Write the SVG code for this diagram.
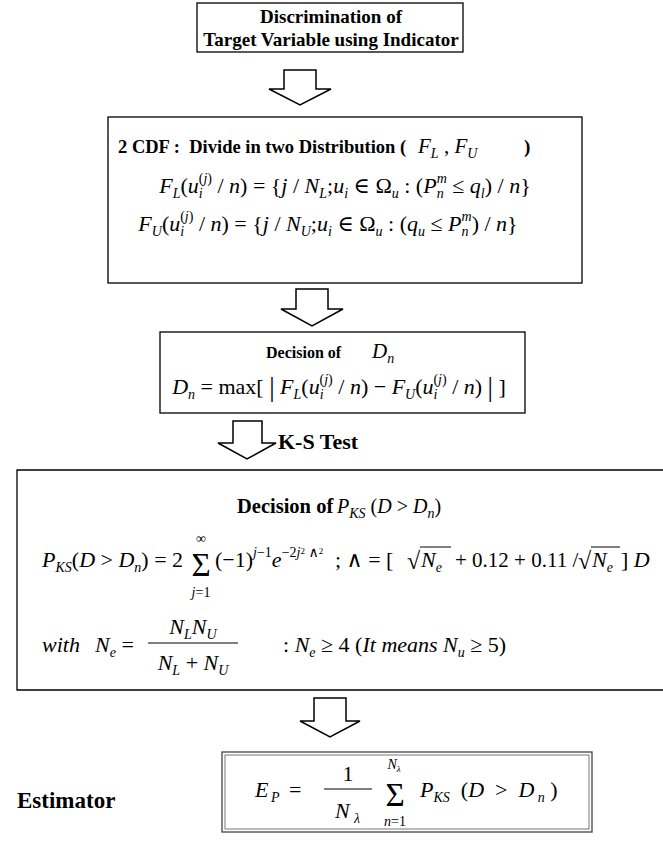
<svg xmlns="http://www.w3.org/2000/svg" width="663" height="841" viewBox="0 0 663 841">
<style>
.t{font-family:"Liberation Serif","DejaVu Serif",serif;white-space:pre;fill:#000}
.b{font-family:"Liberation Serif","DejaVu Serif",serif;white-space:pre;fill:#000;font-weight:bold}
.i{font-style:italic}
.s{font-size:14px}
.box{fill:#fff;stroke:#000;stroke-width:1.3}
.arrow{fill:#fff;stroke:#000;stroke-width:1.5;stroke-linejoin:miter}
.ln{stroke:#000;stroke-width:1}
</style>
<rect width="663" height="841" fill="#fff"/>
<g id="connectors">
<path class="arrow" d="M284 70H316V89H331L300 105L269 89H284Z"/>
<path class="arrow" d="M296 289H328V309H343L312 326L281 309H296Z"/>
<path class="arrow" d="M233 421H262V443H276L247 459L218 443H233Z"/>
<path class="arrow" d="M314 698H346V721H360L330 737L300 721H314Z"/>
</g>
<g id="node-discrimination">
<rect class="box" x="197" y="3" width="266" height="49"/>
<text class="b" x="331" y="23" font-size="19" text-anchor="middle">Discrimination of</text>
<text class="b" x="331" y="46" font-size="19" text-anchor="middle">Target Variable using Indicator</text>
</g>
<g id="node-cdf">
<rect class="box" x="108" y="117" width="474" height="166"/>
<text class="b" x="118" y="153" font-size="18.5">2 CDF :  Divide in two Distribution (</text>
<text class="t" x="418" y="153" font-size="21"><tspan class="i">F</tspan><tspan class="s i" dy="5">L</tspan><tspan dy="-5"> , </tspan><tspan class="i">F</tspan><tspan class="s i" dy="5">U</tspan></text>
<text class="b" x="524" y="153" font-size="19">)</text>
<text class="t" x="345" y="193" font-size="22" text-anchor="middle"><tspan class="i">F</tspan><tspan class="s i" dy="5">L</tspan><tspan dy="-5">(</tspan><tspan class="i">u</tspan><tspan class="s i" dy="5">i</tspan><tspan class="s" dx="-4" dy="-15">(<tspan class="i">j</tspan>)</tspan><tspan dy="10"> / </tspan><tspan class="i">n</tspan>) = {<tspan class="i">j</tspan> / <tspan class="i">N</tspan><tspan class="s i" dy="5">L</tspan><tspan dy="-5">;</tspan><tspan class="i">u</tspan><tspan class="s i" dy="5">i</tspan><tspan dy="-5"> ∈ Ω</tspan><tspan class="s i" dy="5">u</tspan><tspan dy="-5"> : (</tspan><tspan class="i">P</tspan><tspan class="s i" dy="5">n</tspan><tspan class="s i" dx="-7" dy="-15">m</tspan><tspan dy="10"> ≤ </tspan><tspan class="i">q</tspan><tspan class="s i" dy="5">l</tspan><tspan dy="-5">) / </tspan><tspan class="i">n</tspan>}</text>
<text class="t" x="328" y="231" font-size="22" text-anchor="middle"><tspan class="i">F</tspan><tspan class="s i" dy="5">U</tspan><tspan dy="-5">(</tspan><tspan class="i">u</tspan><tspan class="s i" dy="5">i</tspan><tspan class="s" dx="-4" dy="-15">(<tspan class="i">j</tspan>)</tspan><tspan dy="10"> / </tspan><tspan class="i">n</tspan>) = {<tspan class="i">j</tspan> / <tspan class="i">N</tspan><tspan class="s i" dy="5">U</tspan><tspan dy="-5">;</tspan><tspan class="i">u</tspan><tspan class="s i" dy="5">i</tspan><tspan dy="-5"> ∈ Ω</tspan><tspan class="s i" dy="5">u</tspan><tspan dy="-5"> : (</tspan><tspan class="i">q</tspan><tspan class="s i" dy="5">u</tspan><tspan dy="-5"> ≤ </tspan><tspan class="i">P</tspan><tspan class="s i" dy="5">n</tspan><tspan class="s i" dx="-7" dy="-15">m</tspan><tspan dy="10">) / </tspan><tspan class="i">n</tspan>}</text>
</g>
<g id="node-dn">
<rect class="box" x="160" y="332" width="365" height="81"/>
<text class="b" x="266" y="358" font-size="16">Decision of</text>
<text class="t" x="372" y="358" font-size="21"><tspan class="i">D</tspan><tspan class="s i" dy="5">n</tspan></text>
<text class="t" x="339" y="394" font-size="22" text-anchor="middle"><tspan class="i">D</tspan><tspan class="s i" dy="5">n</tspan><tspan dy="-5"> = max[ </tspan><tspan font-size="27" dy="2">|</tspan><tspan dy="-2"> </tspan><tspan class="i">F</tspan><tspan class="s i" dy="5">L</tspan><tspan dy="-5">(</tspan><tspan class="i">u</tspan><tspan class="s i" dy="5">i</tspan><tspan class="s" dx="-4" dy="-15">(<tspan class="i">j</tspan>)</tspan><tspan dy="10"> / </tspan><tspan class="i">n</tspan>) − <tspan class="i">F</tspan><tspan class="s i" dy="5">U</tspan><tspan dy="-5">(</tspan><tspan class="i">u</tspan><tspan class="s i" dy="5">i</tspan><tspan class="s" dx="-4" dy="-15">(<tspan class="i">j</tspan>)</tspan><tspan dy="10"> / </tspan><tspan class="i">n</tspan>) <tspan font-size="27" dy="2">|</tspan><tspan dy="-2"> ]</tspan></text>
</g>
<g id="label-ks">
<text class="b" x="278" y="449" font-size="22">K-S Test</text>
</g>
<g id="node-pks">
<path class="box" d="M664 470H17V690H664"/>
<text class="b" x="237" y="513" font-size="20.5">Decision of</text>
<text class="t" x="337" y="513" font-size="20"><tspan class="i">P</tspan><tspan class="s i" dy="5">KS</tspan><tspan dy="-5"> (</tspan><tspan class="i">D</tspan> &gt; <tspan class="i">D</tspan><tspan class="s i" dy="5">n</tspan><tspan dy="-5">)</tspan></text>
<text class="t" x="42" y="567" font-size="22"><tspan class="i">P</tspan><tspan class="s i" dy="5">KS</tspan><tspan dy="-5">(</tspan><tspan class="i">D</tspan> &gt; <tspan class="i">D</tspan><tspan class="s i" dy="5">n</tspan><tspan dy="-5">) = 2</tspan></text>
<text class="t" x="201" y="576" font-size="33" text-anchor="middle">Σ</text>
<text class="t" x="201" y="543" font-size="14" text-anchor="middle">∞</text>
<text class="t s" x="201" y="597" text-anchor="middle"><tspan class="i">j</tspan>=1</text>
<text class="t" x="215" y="567" font-size="22">(−1)<tspan class="s i" dy="-10">j</tspan><tspan class="s">−1</tspan><tspan class="i" dy="10">e</tspan><tspan class="s" dy="-10">−2<tspan class="i">j</tspan></tspan><tspan font-size="9" dy="-3">2</tspan><tspan class="s" dy="3"> ∧</tspan><tspan font-size="9" dy="-3">2</tspan></text>
<text class="t" x="335" y="567" font-size="22">; ∧ = [</text>
<text class="t" x="407" y="569" font-size="24">√</text>
<line class="ln" x1="420" y1="547" x2="451" y2="547"/>
<text class="t" x="421" y="567" font-size="22"><tspan class="i">N</tspan><tspan class="s i" dy="5">e</tspan></text>
<text class="t" x="455" y="567" font-size="21">+ 0.12 + 0.11 /</text>
<text class="t" x="578" y="569" font-size="24">√</text>
<line class="ln" x1="591" y1="547" x2="620" y2="547"/>
<text class="t" x="592" y="567" font-size="22"><tspan class="i">N</tspan><tspan class="s i" dy="5">e</tspan></text>
<text class="t" x="621" y="567" font-size="22">] <tspan class="i">D</tspan></text>
<text class="t i" x="42" y="652" font-size="22">with</text>
<text class="t" x="95" y="652" font-size="22"><tspan class="i">N</tspan><tspan class="s i" dy="5">e</tspan><tspan dy="-5"> =</tspan></text>
<text class="t" x="193" y="634" font-size="22" text-anchor="middle"><tspan class="i">N</tspan><tspan class="s i" dy="5">L</tspan><tspan class="i" dy="-5">N</tspan><tspan class="s i" dy="5">U</tspan></text>
<line class="ln" x1="148" y1="643" x2="238" y2="643"/>
<text class="t" x="193" y="670" font-size="22" text-anchor="middle"><tspan class="i">N</tspan><tspan class="s i" dy="5">L</tspan><tspan dy="-5"> + </tspan><tspan class="i">N</tspan><tspan class="s i" dy="5">U</tspan></text>
<text class="t" x="283" y="652" font-size="22">: <tspan class="i">N</tspan><tspan class="s i" dy="5">e</tspan><tspan dy="-5"> ≥ 4 (</tspan><tspan class="i">It means N</tspan><tspan class="s i" dy="5">u</tspan><tspan dy="-5"> ≥ 5)</tspan></text>
</g>
<g id="node-estimator">
<rect x="222" y="752" width="370" height="80" fill="#fff" stroke="#444" stroke-width="1.3"/>
<rect x="225" y="755" width="364" height="74" fill="none" stroke="#777" stroke-width="1"/>
<text class="b" x="17" y="808" font-size="23">Estimator</text>
<text class="t i" x="255" y="797" font-size="22">E</text>
<text class="t s i" x="271" y="802">P</text>
<text class="t" x="289" y="797" font-size="22">=</text>
<text class="t" x="348" y="781" font-size="22" text-anchor="middle">1</text>
<line class="ln" x1="324" y1="789" x2="372" y2="789"/>
<text class="t i" x="335" y="818" font-size="22">N</text>
<text class="t s i" x="354" y="823">λ</text>
<text class="t" x="395" y="806" font-size="33" text-anchor="middle">Σ</text>
<text class="t s i" x="394" y="769" text-anchor="middle">N<tspan font-size="9" dy="3">λ</tspan></text>
<text class="t s" x="395" y="826" text-anchor="middle"><tspan class="i">n</tspan>=1</text>
<text class="t" x="420" y="797" font-size="22"><tspan class="i">P</tspan><tspan class="s i" dy="5">KS</tspan><tspan dy="-5">  (</tspan><tspan class="i">D</tspan>  &gt;  <tspan class="i">D</tspan><tspan class="s i" dy="5"> n</tspan><tspan dy="-5"> )</tspan></text>
</g>
</svg>
